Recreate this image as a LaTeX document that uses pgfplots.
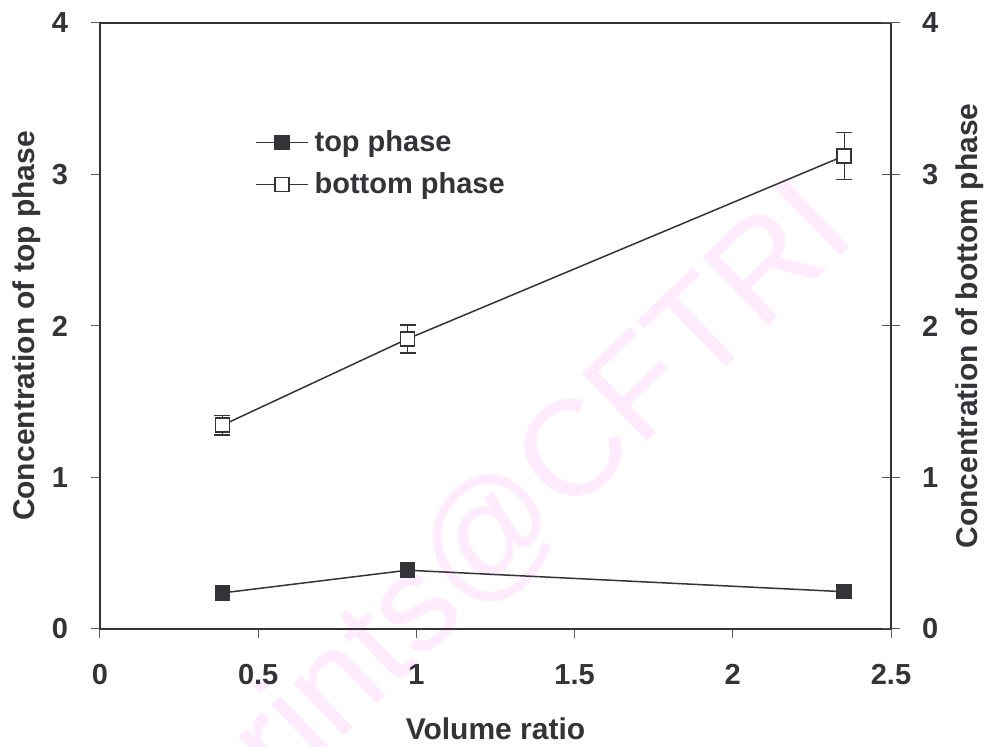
\documentclass[border=0pt]{standalone}
\usepackage{fontspec}
\setmainfont{Liberation Sans}
\usepackage{pgfplots}
\pgfplotsset{compat=1.18}
\definecolor{ink}{RGB}{51,51,56}
\definecolor{wm}{RGB}{255,234,254}
\begin{document}
\begin{tikzpicture}
\useasboundingbox (-50pt,-59pt) rectangle (447.5pt,314.5pt);
\node[rotate=44, text=wm, font=\fontsize{68.5}{70}\selectfont] at (187.5pt,34.5pt) {reprints@CFTRI};
\begin{axis}[
  at={(0,0)}, anchor=south west,
  width=395.5pt, height=303pt, scale only axis,
  xmin=0, xmax=2.5, ymin=0, ymax=4,
  xtick={0,0.5,1,1.5,2,2.5}, xticklabels={0,0.5,1,1.5,2,2.5},
  ytick={0,1,2,3,4}, yticklabels={0,1,2,3,4},
  xtick pos=bottom, ytick pos=left,
  tick align=outside, major tick length=4.5pt,
  axis line style={ink, line width=1.35pt},
  tick style={ink!80, line width=0.5pt},
  ticklabel style={font=\fontsize{14.5}{17}\selectfont\bfseries, text=ink},
  xticklabel style={yshift=-9.5pt},
  yticklabel style={xshift=-8pt},
  xlabel={Volume ratio},
  ylabel={Concentration of top phase},
  label style={font=\fontsize{15}{18}\selectfont\bfseries, text=ink},
  xlabel style={at={(axis description cs:0.5,-0.165)}, anchor=center},
  ylabel style={at={(axis description cs:-0.0923,0.5)}, anchor=center},
  legend style={at={(axis description cs:0.188,0.84)}, anchor=north west, draw=none, fill=none,
    font=\fontsize{14.5}{17}\selectfont\bfseries, text=ink, row sep=3pt,
    nodes={inner sep=3pt}},
  legend cell align=left,
  legend image code/.code={\draw[mark repeat=2,mark phase=2,#1] plot coordinates {(0pt,0pt) (13pt,0pt) (26pt,0pt)};},
]
\addplot[ink, line width=0.75pt, mark=square*, mark size=3.5pt, mark options={fill=ink, solid},
  error bars/.cd, y dir=both, y explicit, error mark options={rotate=90, mark size=3pt, ink, line width=0.75pt}]
  coordinates {(0.387,0.238) +- (0,0.01) (0.972,0.388) +- (0,0.01) (2.352,0.246) +- (0,0.01)};
\addlegendentry{top phase}
\addplot[ink, line width=0.75pt, mark=square*, mark size=3.5pt, mark options={fill=white, solid},
  error bars/.cd, y dir=both, y explicit, error mark options={rotate=90, mark size=4pt, ink, line width=0.75pt}]
  coordinates {(0.387,1.345) +- (0,0.065) (0.972,1.915) +- (0,0.092) (2.352,3.123) +- (0,0.155)};
\addlegendentry{bottom phase}
\end{axis}
\begin{axis}[
  at={(0,0)}, anchor=south west,
  width=395.5pt, height=303pt, scale only axis,
  xmin=0, xmax=2.5, ymin=0, ymax=4,
  hide x axis,
  axis y line*=right,
  ytick={0,1,2,3,4}, yticklabels={0,1,2,3,4},
  tick align=center, major tick length=9pt,
  axis line style={ink, line width=1.35pt, -},
  tick style={ink!80, line width=0.5pt},
  ticklabel style={font=\fontsize{14.5}{17}\selectfont\bfseries, text=ink},
  yticklabel style={xshift=7.5pt},
  ylabel={Concentration of bottom phase},
  label style={font=\fontsize{15}{18}\selectfont\bfseries, text=ink},
  ylabel style={at={(axis description cs:1.0999,0.5)}, anchor=center},
]
\addplot[draw=none] coordinates {(0,0)};
\end{axis}
\end{tikzpicture}
\end{document}
